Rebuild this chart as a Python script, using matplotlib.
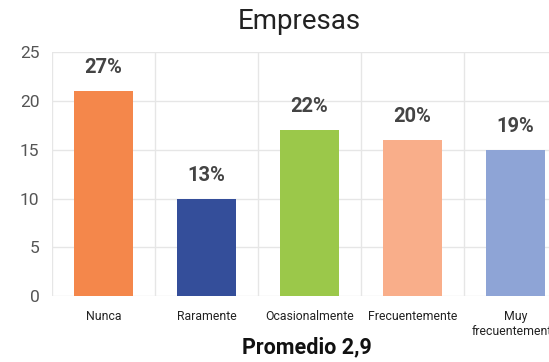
import matplotlib.pyplot as plt
import numpy as np

# datos del grafico
categorias = ["Nunca", "Raramente", "Ocasionalmente", "Frecuentemente", "Muy\nfrecuentemente"]
valores = [21, 10, 17, 16, 15]
porcentajes = ["27%", "13%", "22%", "20%", "19%"]
colores = ["#F4874B", "#344E9A", "#9BC84A", "#F9AE8A", "#8EA4D6"]

plt.rcParams['font.family'] = ['Roboto', 'DejaVu Sans']

fig = plt.figure(figsize=(5.49, 3.62), dpi=100)
ax = fig.add_axes([0.0947, 0.182, 0.938, 0.674])

x = np.arange(len(categorias))
ax.bar(x, valores, width=0.57, color=colores, zorder=3)

for xi, v, p in zip(x, valores, porcentajes):
    ax.annotate(p, (xi, v), xytext=(0, 10), textcoords="offset points",
                ha="center", va="bottom", fontsize=14.5, fontweight="bold", color="#444444")

ax.set_xlim(-0.5, len(categorias) - 0.5)
ax.set_ylim(0, 25)
ax.set_yticks([0, 5, 10, 15, 20, 25])
ax.set_xticks(x)
ax.set_xticklabels(categorias, fontsize=8.8, color="#222222", linespacing=1.15)
ax.tick_params(axis="y", labelsize=12.5, colors="#555555", length=0, pad=9)
ax.tick_params(axis="x", length=0, pad=10)

# rejilla: horizontales en los ticks, verticales entre categorias
ax.set_xticks(np.arange(-0.5, len(categorias), 1.0), minor=True)
ax.grid(True, axis="y", color="#e6e6e6", linewidth=1, zorder=0)
ax.grid(True, axis="x", which="minor", color="#e6e6e6", linewidth=1, zorder=0)
ax.grid(False, axis="x", which="major")
for s in ax.spines.values():
    s.set_visible(False)
ax.tick_params(axis="x", which="minor", length=0)

fig.text(0.546, 0.94, "Empresas", ha="center", va="center", fontsize=20, color="#222222")
fig.text(0.559, 0.041, "Promedio 2,9", ha="center", va="center", fontsize=15.5,
         fontweight="bold", color="#111111")

fig.savefig("out.png", dpi=100)
